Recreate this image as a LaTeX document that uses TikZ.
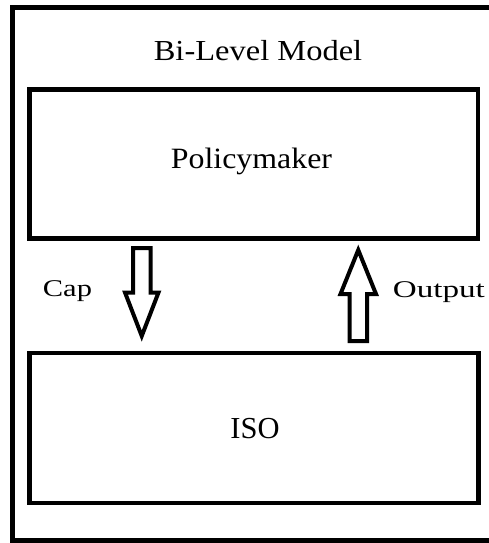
\documentclass[tikz,border=0pt]{standalone}
\usepackage{fontspec}
\setmainfont{Liberation Serif}
\usepackage{graphicx}
\begin{document}
\begin{tikzpicture}[x=1pt,y=-1pt,
  outerbox/.style={draw=black,line width=5pt},
  levelbox/.style={draw=black,line width=4.5pt},
  blockarrow/.style={draw=black,line width=4pt,line join=miter,fill=white},
  lbl/.style={inner sep=0pt,anchor=base,text=black}]
\useasboundingbox (0,0) rectangle (488,543);
\draw[outerbox] (12.5,7.5) rectangle (492,540.8);
\node[lbl] (title) at (258,60) {\fontsize{29}{32}\selectfont\scalebox{1.12}[1]{Bi-Level Model}};
\node[levelbox,minimum width=448.5pt,minimum height=149pt,inner sep=0pt] (pm) at (253.75,164) {};
\node[lbl] (pmtext) at (251.5,168) {\fontsize{29.5}{32}\selectfont\scalebox{1.08}[1]{Policymaker}};
\node[levelbox,minimum width=449pt,minimum height=150pt,inner sep=0pt] (iso) at (254,428) {};
\node[lbl] (isotext) at (255,438.3) {\fontsize{30.5}{32}\selectfont\scalebox{1.0}[1]{ISO}};
% down arrow (Cap)
\draw[blockarrow] (133,248) -- (150.5,248) -- (150.5,292.5) -- (158.5,292.5) -- (141.75,336) -- (125,292.5) -- (133,292.5) -- cycle;
% up arrow (Output)
\draw[blockarrow] (349.5,341) -- (367,341) -- (367,294) -- (376,294) -- (358.25,250) -- (340.5,294) -- (349.5,294) -- cycle;
\node[lbl,anchor=base west] (cap) at (42.7,296.7) {\fontsize{24}{26}\selectfont\scalebox{1.27}[1]{Cap}};
\node[lbl,anchor=base west] (out) at (392.7,297.3) {\fontsize{24}{26}\selectfont\scalebox{1.38}[1]{Output}};
\end{tikzpicture}
\end{document}
